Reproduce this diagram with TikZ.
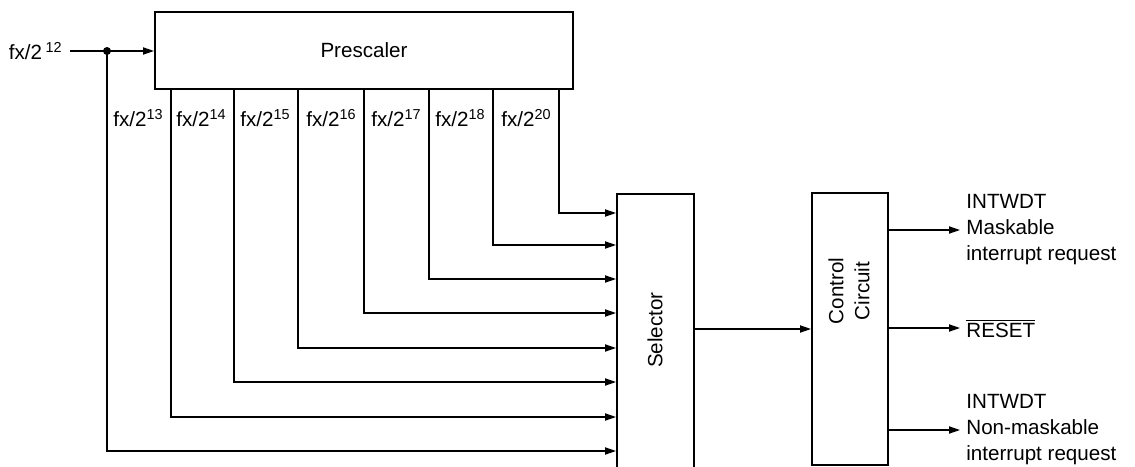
\documentclass[tikz,border=0pt]{standalone}
\usepackage{fontspec}
\setmainfont{Liberation Sans}
\usetikzlibrary{arrows.meta}
\tikzset{
  blk/.style={draw, line width=1pt, inner sep=0pt},
  sig/.style={line width=0.6pt, -{Triangle[length=5.5pt,width=3.6pt]}},
  outlbl/.style={anchor=west, align=left, inner sep=3pt},
}
\begin{document}
\begin{tikzpicture}[x=0.5pt, y=-0.5pt, font=\fontsize{10.3}{13}\selectfont]
  \useasboundingbox (0,0) rectangle (1135,466);
  \clip (0,0) rectangle (1135,466);

  % Blocks
  \node[blk, minimum width=209pt, minimum height=38.5pt] (pre) at (364,50.5) {Prescaler};
  \node[blk, minimum width=38.5pt, minimum height=139pt] (sel) at (655.5,333) {}; % runs off the bottom
  \node[blk, minimum width=38pt, minimum height=136pt] (ctl) at (850,329) {};
  \node[rotate=90] (selt) at (655,330) {Selector};
  \node[rotate=90, align=center] (ctlt) at (849,291) {Control\\Circuit}; % two lines

  % Input clock
  \coordinate (in) at (70,51);
  \coordinate (tap) at (107,51);
  \node[anchor=east, inner sep=0pt] (fin) at (63,51) {fx/2\,\textsuperscript{12}};
  \draw[sig] (in) -- (pre.west |- tap);
  \fill (tap) circle (2pt); % junction

  % Prescaler taps into the selector
  \draw[sig] (tap) |- (sel.west |- 0,451);
  \foreach \x/\y/\e in {171/417/13, 234/382/14, 298/348/15, 364/313/16,
                        429/279/17, 493/245/18, 559/213/20}
  {
    \draw[sig] (pre.south -| \x,0) |- (sel.west |- 0,\y);
    \node[anchor=east, inner sep=0pt] (f\e) at (\x-7,118) {fx/2\textsuperscript{\e}};
  }

  % Selector to control circuit
  \draw[sig] (sel.east |- 0,329) -- (ctl.west |- 0,329);

  % Outputs
  \node[outlbl] (int1) at (960,230) {INTWDT\\Maskable\\interrupt request};
  \node[outlbl] (rst) at (960,328) {$\overline{\mbox{RESET}}$};
  \node[outlbl] (int2) at (960,430) {INTWDT\\Non-maskable\\interrupt request};
  \draw[sig] (ctl.east |- int1.west) -- (int1.west);
  \draw[sig] (ctl.east |- rst.west) -- (rst.west);
  \draw[sig] (ctl.east |- int2.west) -- (int2.west);
\end{tikzpicture}
\end{document}
